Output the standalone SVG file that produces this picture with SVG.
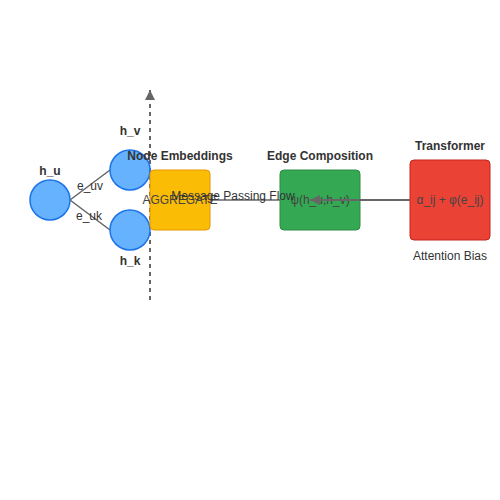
<svg xmlns="http://www.w3.org/2000/svg" width="500" height="500" viewBox="0 0 500 500">
<style>
.lbl{font-family:"Liberation Sans",Arial,sans-serif;font-size:12px;fill:#333;text-anchor:middle}
.b{font-weight:bold}
.node{fill:#66b2ff;stroke:#1a73e8;stroke-width:1.5}
.edge{stroke:#666;stroke-width:1.5;fill:none}
.inner{font-family:"Liberation Sans",Arial,sans-serif;font-size:12px;fill:#444;text-anchor:middle}
</style>
<defs>
<marker id="arr" viewBox="0 0 10 10" refX="10" refY="5" markerWidth="6" markerHeight="6" orient="auto-start-reverse" markerUnits="userSpaceOnUse">
<path d="M0,0 L10,5 L0,10 Z" fill="#666"/>
</marker>
<marker id="arr2" viewBox="0 0 10 10" refX="10" refY="5" markerWidth="12" markerHeight="10" orient="auto" markerUnits="userSpaceOnUse">
<path d="M0,0 L10,5 L0,10 Z" fill="#666"/>
</marker>
</defs>
<rect width="500" height="500" fill="#fff"/>
<g id="connectors">
<line x1="150" y1="300" x2="150" y2="90" stroke="#666" stroke-width="2" stroke-dasharray="4,4" marker-end="url(#arr2)"/>
<line class="edge" x1="70" y1="200" x2="110" y2="170"/>
<line class="edge" x1="70" y1="200" x2="110" y2="230"/>
<line class="edge" x1="210" y1="200" x2="280" y2="200" stroke-width="2"/>
</g>
<g id="h_u"><circle class="node" cx="50" cy="200" r="20"/><text class="lbl b" x="50" y="175">h_u</text></g>
<g id="h_v"><circle class="node" cx="130" cy="170" r="20"/><text class="lbl b" x="130" y="135">h_v</text></g>
<g id="h_k"><circle class="node" cx="130" cy="230" r="20"/><text class="lbl b" x="130" y="265">h_k</text></g>
<g id="edge-labels">
<text class="lbl" x="90" y="190">e_uv</text>
<text class="lbl" x="89" y="220">e_uk</text>
</g>
<g id="aggregate">
<rect x="150" y="170" width="60" height="60" rx="4" fill="#fbbc05" stroke="#e69500" stroke-width="1"/>
<text class="inner" x="180" y="204">AGGREGATE</text>
<text class="lbl b" x="180" y="160">Node Embeddings</text>
</g>
<g id="edge-composition">
<rect x="280" y="170" width="80" height="60" rx="4" fill="#34a853" stroke="#2a8c43" stroke-width="1"/>
<text class="inner" x="320" y="204">ψ(h_u,h_v)</text>
<text class="lbl b" x="320" y="160">Edge Composition</text>
</g>
<g id="transformer">
<rect x="410" y="160" width="80" height="80" rx="4" fill="#ea4335" stroke="#c5221f" stroke-width="1"/>
<text class="inner" x="450" y="204">α_ij + φ(e_ij)</text>
<text class="lbl b" x="450" y="150">Transformer</text>
<text class="lbl" x="450" y="260">Attention Bias</text>
</g>
<g id="flow">
<line x1="410" y1="200" x2="310" y2="200" stroke="#666" stroke-width="2" marker-end="url(#arr2)"/>
<text class="lbl" x="233" y="200">Message Passing Flow</text>
</g>
</svg>
